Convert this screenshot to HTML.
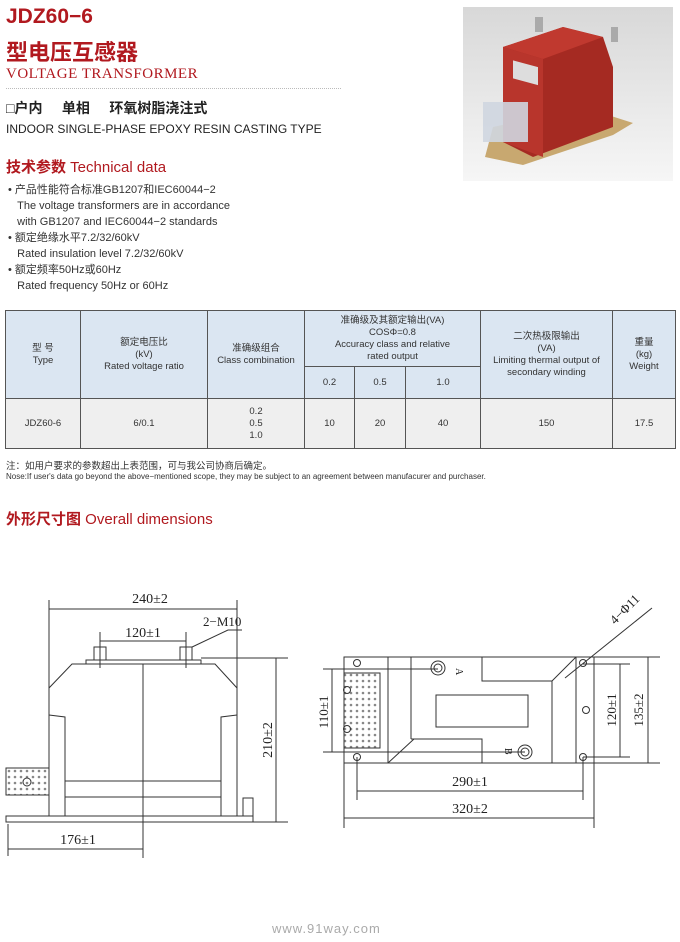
<!DOCTYPE html>
<html><head><meta charset="utf-8"><style>
body{margin:0;width:680px;height:942px;background:#fff;position:relative;overflow:hidden;font-family:"Liberation Sans","Noto Sans CJK SC",sans-serif;color:#222}
.a{position:absolute;white-space:nowrap}
table{position:absolute;left:5px;top:310px;width:670px;table-layout:fixed;border-collapse:collapse;font-size:9.5px;color:#333}
td{border:1px solid #555;text-align:center;line-height:12px;padding:0}
.h{background:#dbe6f2}
.d{background:#efefef}
</style></head><body>
<div class="a" style="left:6px;top:5px;font-size:21px;font-weight:bold;color:#b1191f">JDZ60−6</div>
<div class="a" style="left:6px;top:35px;font-size:22px;font-weight:bold;color:#b1191f;font-family:'Noto Sans CJK SC',sans-serif">型电压互感器</div>
<div class="a" style="left:6px;top:66px;font-size:15px;color:#b1191f;font-family:'Liberation Serif',serif;letter-spacing:0.5px">VOLTAGE TRANSFORMER</div>
<div class="a" style="left:6px;top:88px;width:335px;border-top:1px dotted #bbb"></div>
<div class="a" style="left:6px;top:98px;font-size:14px;font-weight:bold;color:#222">□户内 &nbsp;&nbsp;&nbsp; 单相 &nbsp;&nbsp;&nbsp; 环氧树脂浇注式</div>
<div class="a" style="left:6px;top:122px;font-size:12px;color:#222">INDOOR SINGLE-PHASE EPOXY RESIN CASTING TYPE</div>
<div class="a" style="left:6px;top:156px;font-size:15px;color:#b1191f"><b>技术参数</b> Technical data</div>
<div class="a" style="left:8px;top:182px;font-size:11px;line-height:16px;color:#333">
• 产品性能符合标准GB1207和IEC60044−2<br>
&nbsp;&nbsp;&nbsp;The voltage transformers are in accordance<br>
&nbsp;&nbsp;&nbsp;with GB1207 and IEC60044−2 standards<br>
• 额定绝缘水平7.2/32/60kV<br>
&nbsp;&nbsp;&nbsp;Rated insulation level 7.2/32/60kV<br>
• 额定频率50Hz或60Hz<br>
&nbsp;&nbsp;&nbsp;Rated frequency 50Hz or 60Hz</div>
<svg class="a" style="left:463px;top:7px" width="210" height="174">
<defs><linearGradient id="bg" x1="0" y1="0" x2="0" y2="1"><stop offset="0" stop-color="#d8d8d8"/><stop offset="1" stop-color="#f6f6f6"/></linearGradient></defs>
<rect width="210" height="174" fill="url(#bg)"/>
<polygon points="22,150 60,158 150,128 170,116 120,100 30,120" fill="#c8a870"/>
<polygon points="40,40 100,20 140,30 150,60 150,120 70,150 40,135" fill="#a52a22"/>
<polygon points="40,40 100,20 140,30 80,52" fill="#c0392f"/>
<polygon points="40,40 80,52 80,150 40,135" fill="#b8352c"/>
<rect x="50" y="40" width="25" height="18" fill="#ddd" transform="skewY(15)"/>
<rect x="20" y="95" width="45" height="40" fill="#cfd6e0" opacity="0.9"/>
<rect x="72" y="10" width="8" height="15" fill="#aaa"/><rect x="148" y="20" width="7" height="15" fill="#aaa"/>
</svg>
<table>
<colgroup><col style="width:75px"><col style="width:127px"><col style="width:97px"><col style="width:50px"><col style="width:51px"><col style="width:75px"><col style="width:132px"><col style="width:63px"></colgroup>
<tr class="h" style="height:56px"><td rowspan="2">型 号<br>Type</td><td rowspan="2">额定电压比<br>(kV)<br>Rated voltage ratio</td><td rowspan="2">准确级组合<br>Class combination</td><td colspan="3">准确级及其额定输出(VA)<br>COSΦ=0.8<br>Accuracy class and relative<br>rated output</td><td rowspan="2">二次热极限输出<br>(VA)<br>Limiting thermal output of<br>secondary winding</td><td rowspan="2">重量<br>(kg)<br>Weight</td></tr>
<tr class="h" style="height:32px"><td>0.2</td><td>0.5</td><td>1.0</td></tr>
<tr class="d" style="height:50px"><td>JDZ60-6</td><td>6/0.1</td><td>0.2<br>0.5<br>1.0</td><td>10</td><td>20</td><td>40</td><td>150</td><td>17.5</td></tr>
</table>
<div class="a" style="left:6px;top:458px;font-size:9.5px;color:#333">注：如用户要求的参数超出上表范围，可与我公司协商后确定。</div>
<div class="a" style="left:6px;top:472px;font-size:8px;color:#333">Nose:If user's data go beyond the above−mentioned scope, they may be subject to an agreement between manufacurer and purchaser.</div>
<div class="a" style="left:6px;top:508px;font-size:15px;color:#b1191f"><b>外形尺寸图</b> Overall dimensions</div>
<svg class="a" style="left:0;top:0" width="680" height="942" fill="none" stroke="#333" stroke-width="1" font-family="Liberation Serif,serif">
<defs><pattern id="ht" width="6" height="6" patternUnits="userSpaceOnUse"><circle cx="3" cy="3" r="1.3" fill="#888" stroke="none"/></pattern></defs>
<line x1="49" y1="600" x2="49" y2="688"/><line x1="237" y1="600" x2="237" y2="688"/>
<line x1="49" y1="609" x2="237" y2="609"/>
<text x="150" y="603" font-size="14" fill="#222" stroke="none" text-anchor="middle">240±2</text>
<line x1="100" y1="641" x2="186" y2="641"/>
<text x="143" y="637" font-size="14" fill="#222" stroke="none" text-anchor="middle">120±1</text>
<text x="203" y="626" font-size="13" fill="#222" stroke="none">2−M10</text>
<polyline points="242,630 228,630 190,648"/>
<rect x="94" y="647" width="12" height="13" fill="#fff"/><rect x="180" y="647" width="12" height="13" fill="#fff"/>
<line x1="100" y1="632" x2="100" y2="668"/><line x1="186" y1="632" x2="186" y2="668"/>
<rect x="86" y="660" width="115" height="4"/>
<polygon points="72,664 215,664 237,688 237,816 49,816 49,688"/>
<line x1="143" y1="664" x2="143" y2="858"/>
<polyline points="49,715 65,717 65,816"/><polyline points="237,715 221,717 221,816"/>
<line x1="65" y1="781" x2="221" y2="781"/><line x1="65" y1="797" x2="221" y2="797"/>
<rect x="6" y="816" width="247" height="6"/>
<rect x="6" y="768" width="43" height="27" fill="url(#ht)"/>
<circle cx="27" cy="782" r="4"/>
<rect x="243" y="798" width="10" height="18" fill="#fff"/>
<line x1="201" y1="658" x2="288" y2="658"/><line x1="253" y1="822" x2="288" y2="822"/>
<line x1="276" y1="658" x2="276" y2="822"/>
<text x="272" y="740" font-size="14" fill="#222" stroke="none" text-anchor="middle" transform="rotate(-90 272 740)">210±2</text>
<line x1="8" y1="824" x2="8" y2="856"/><line x1="8" y1="849" x2="143" y2="849"/>
<text x="78" y="844" font-size="14" fill="#222" stroke="none" text-anchor="middle">176±1</text>
<rect x="344" y="657" width="250" height="106"/>
<line x1="388" y1="657" x2="388" y2="763"/><line x1="411" y1="657" x2="411" y2="739"/>
<polyline points="482,657 482,681 552,681 552,763"/><line x1="552" y1="681" x2="576" y2="657"/>
<line x1="388" y1="763" x2="414" y2="739"/><polyline points="411,739 482,739 482,763"/>
<line x1="576" y1="657" x2="576" y2="763"/>
<rect x="436" y="695" width="92" height="32"/>
<circle cx="438" cy="668" r="7"/><circle cx="438" cy="668" r="4"/>
<circle cx="525" cy="752" r="7"/><circle cx="525" cy="752" r="4"/>
<text x="456" y="668" font-size="10" fill="#222" stroke="none" transform="rotate(90 456 668)">A</text>
<text x="505" y="748" font-size="10" fill="#222" stroke="none" transform="rotate(90 505 748)">B</text>
<rect x="344" y="673" width="36" height="75" fill="url(#ht)"/>
<circle cx="347" cy="690" r="3.5"/><circle cx="347" cy="729" r="3.5"/>
<circle cx="357" cy="663" r="3.5"/><circle cx="357" cy="757" r="3.5"/>
<circle cx="583" cy="663" r="3.5"/><circle cx="583" cy="757" r="3.5"/><circle cx="586" cy="710" r="3.5"/>
<line x1="323" y1="669" x2="438" y2="669"/><line x1="323" y1="752" x2="525" y2="752"/>
<line x1="332" y1="669" x2="332" y2="752"/>
<text x="328" y="712" font-size="13" fill="#222" stroke="none" text-anchor="middle" transform="rotate(-90 328 712)">110±1</text>
<line x1="583" y1="664" x2="630" y2="664"/><line x1="583" y1="757" x2="630" y2="757"/>
<line x1="620" y1="664" x2="620" y2="757"/>
<text x="616" y="710" font-size="13" fill="#222" stroke="none" text-anchor="middle" transform="rotate(-90 616 710)">120±1</text>
<line x1="594" y1="657" x2="660" y2="657"/><line x1="594" y1="763" x2="660" y2="763"/>
<line x1="648" y1="657" x2="648" y2="763"/>
<text x="643" y="710" font-size="13" fill="#222" stroke="none" text-anchor="middle" transform="rotate(-90 643 710)">135±2</text>
<line x1="357" y1="757" x2="357" y2="800"/><line x1="583" y1="757" x2="583" y2="800"/>
<line x1="357" y1="791" x2="583" y2="791"/>
<text x="470" y="786" font-size="14" fill="#222" stroke="none" text-anchor="middle">290±1</text>
<line x1="344" y1="763" x2="344" y2="828"/><line x1="594" y1="763" x2="594" y2="828"/>
<line x1="344" y1="818" x2="594" y2="818"/>
<text x="470" y="813" font-size="14" fill="#222" stroke="none" text-anchor="middle">320±2</text>
<line x1="565" y1="678" x2="652" y2="608"/>
<text x="615" y="625" font-size="13" fill="#222" stroke="none" transform="rotate(-45 615 625)">4−Φ11</text>
</svg>
<div class="a" style="left:272px;top:921px;font-size:13px;color:#aaa;letter-spacing:1px">www.91way.com</div>
</body></html>
